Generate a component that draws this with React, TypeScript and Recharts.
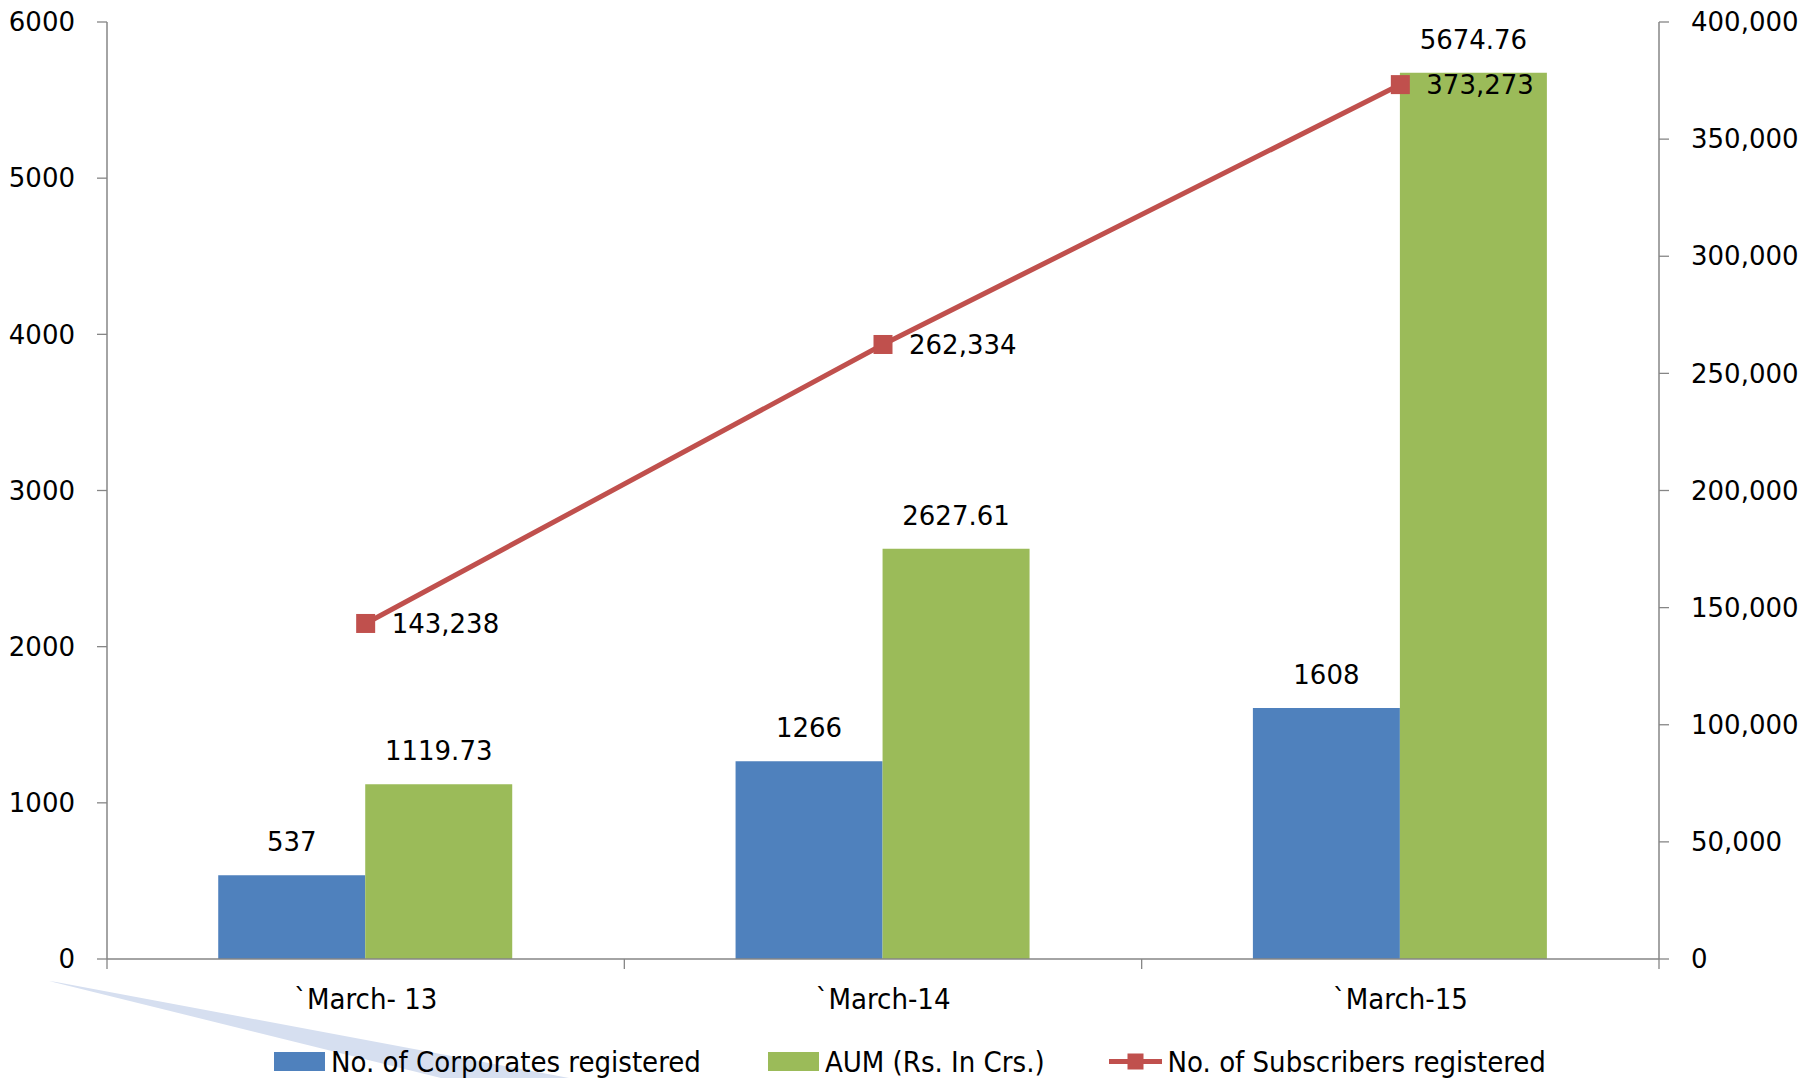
import { Bar, ComposedChart, LabelList, Legend, Line, XAxis, YAxis } from "recharts";

const periods = ["`March- 13", "`March-14", "`March-15"];
const corporates = [537, 1266, 1608];
const aum = [1119.73, 2627.61, 5674.76];
const subscribers = [143238, 262334, 373273];

const leftTicks = [0, 1000, 2000, 3000, 4000, 5000, 6000];
const rightTicks = [0, 50000, 100000, 150000, 200000, 250000, 300000, 350000, 400000];

const BLUE = "#4F81BD";
const GREEN = "#9BBB59";
const RED = "#C0504D";
const AXIS = "#868686";
const FONT = "'DejaVu Sans', Verdana, sans-serif";
const NARROW = "'DejaVu Sans Condensed', 'DejaVu Sans', sans-serif";
const CAT_MARGIN = 29;

const rows = periods.map((period, i) => ({
  period,
  corporates: corporates[i],
  aum: aum[i],
  subscribers: subscribers[i],
}));

const fmt = (v: number) => v.toLocaleString("en-US");

function SquareDot(props: any) {
  const { cx, cy } = props;
  if (cx == null || cy == null) return null;
  return <rect x={cx - 9.5} y={cy - 9.5} width={19} height={19} fill={RED} />;
}

// category label plus the tick marks that sit on the band edges
function CategoryTick(props: any) {
  const { x, y, payload, index } = props;
  const half = payload?.offset ?? 0;
  const top = y - CAT_MARGIN;
  const last = index === periods.length - 1;
  return (
    <g>
      <line x1={x - half} x2={x - half} y1={top} y2={top + 10} stroke={AXIS} strokeWidth={1.3} />
      {last && <line x1={x + half} x2={x + half} y1={top} y2={top + 10} stroke={AXIS} strokeWidth={1.3} />}
      <text x={x} y={y} dy="0.71em" textAnchor="middle" fill="#000" fontSize={29} fontFamily={NARROW}>
        {payload.value}
      </text>
    </g>
  );
}

function LegendBox() {
  const text = { fontFamily: NARROW, fontSize: 29, color: "#000", whiteSpace: "nowrap" as const };
  return (
    <div
      style={{
        height: 59,
        boxSizing: "border-box",
        paddingTop: 26,
        display: "flex",
        justifyContent: "center",
        alignItems: "center",
      }}
    >
      <div style={{ display: "flex", alignItems: "center", marginRight: 67 }}>
        <span style={{ width: 51, height: 19, background: BLUE, marginRight: 6 }} />
        <span style={text}>No. of Corporates registered</span>
      </div>
      <div style={{ display: "flex", alignItems: "center", marginRight: 64 }}>
        <span style={{ width: 51, height: 19, background: GREEN, marginRight: 6 }} />
        <span style={text}>AUM (Rs. In Crs.)</span>
      </div>
      <div style={{ display: "flex", alignItems: "center" }}>
        <svg width={53} height={19} style={{ marginRight: 6 }}>
          <line x1={0} y1={9.5} x2={53} y2={9.5} stroke={RED} strokeWidth={5} strokeLinecap="round" />
          <rect x={18.5} y={1.5} width={16} height={16} fill={RED} />
        </svg>
        <span style={text}>No. of Subscribers registered</span>
      </div>
    </div>
  );
}

export default function App() {
  return (
    <div style={{ position: "absolute", left: 0, top: 0, width: 1820, height: 1078, background: "#fff" }}>
      <svg width={1820} height={1078} style={{ position: "absolute", left: 0, top: 0 }}>
        <polygon points="49,981 56,982 569,1078 441,1078" fill="#d6dff0" />
      </svg>
      <div style={{ position: "absolute", left: 0, top: 0 }}>
        <ComposedChart
          width={1820}
          height={1078}
          data={rows}
          margin={{ top: 22, right: 0, bottom: 0, left: 0 }}
          barCategoryGap="21.5%"
          barGap={0}
        >
          <XAxis
            dataKey="period"
            height={60}
            tickLine={false}
            tickSize={0}
            tickMargin={CAT_MARGIN}
            interval={0}
            axisLine={{ stroke: AXIS, strokeWidth: 1.5 }}
            tick={<CategoryTick />}
          />
          <YAxis
            yAxisId="left"
            width={107}
            domain={[0, 6000]}
            ticks={leftTicks}
            tickSize={10}
            tickMargin={22}
            axisLine={{ stroke: AXIS, strokeWidth: 1.5 }}
            tickLine={{ stroke: AXIS, strokeWidth: 1.3 }}
            tick={{ fill: "#000", fontSize: 26, fontFamily: FONT }}
          />
          <YAxis
            yAxisId="right"
            orientation="right"
            width={161}
            domain={[0, 400000]}
            ticks={rightTicks}
            tickFormatter={fmt}
            tickSize={10}
            tickMargin={22}
            axisLine={{ stroke: AXIS, strokeWidth: 1.5 }}
            tickLine={{ stroke: AXIS, strokeWidth: 1.3 }}
            tick={{ fill: "#000", fontSize: 26, fontFamily: FONT }}
          />
          <Legend verticalAlign="bottom" align="center" content={() => <LegendBox />} />
          <Bar yAxisId="left" dataKey="corporates" fill={BLUE} isAnimationActive={false}>
            <LabelList dataKey="corporates" position="top" offset={24} fill="#000" fontSize={26} fontFamily={FONT} />
          </Bar>
          <Bar yAxisId="left" dataKey="aum" fill={GREEN} isAnimationActive={false}>
            <LabelList dataKey="aum" position="top" offset={24} fill="#000" fontSize={26} fontFamily={FONT} />
          </Bar>
          <Line
            yAxisId="right"
            dataKey="subscribers"
            stroke={RED}
            strokeWidth={5}
            dot={<SquareDot />}
            activeDot={false}
            isAnimationActive={false}
          >
            <LabelList
              dataKey="subscribers"
              position="right"
              offset={26}
              formatter={(v: any) => fmt(Number(v))}
              fill="#000"
              fontSize={26}
              fontFamily={FONT}
            />
          </Line>
        </ComposedChart>
      </div>
    </div>
  );
}
